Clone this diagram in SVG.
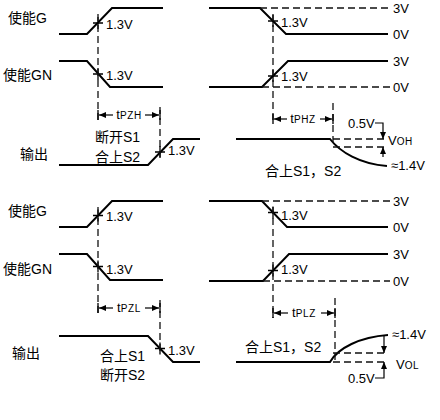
<svg xmlns="http://www.w3.org/2000/svg" width="440" height="420" viewBox="0 0 440 420">
<defs>
<style>
.w{fill:none;stroke:#000;stroke-width:2}
.d{fill:none;stroke:#111;stroke-width:1.3;stroke-dasharray:7 4}
.k{fill:none;stroke:#000;stroke-width:1.3}
.a{fill:none;stroke:#000;stroke-width:1.2;marker-end:url(#ah)}
text{font-family:"Liberation Sans","Noto Sans CJK SC",sans-serif;font-size:13px;fill:#000}
.c{font-size:14px}
.s{font-size:10px;letter-spacing:0.6px}
</style>
<marker id="ah" markerWidth="8" markerHeight="8" refX="7" refY="4" orient="auto" markerUnits="userSpaceOnUse"><path d="M0,1 L7,4 L0,7 z" fill="#000"/></marker>
<path id="x" d="M-5,0H5M0,-6V6" class="k"/>
</defs>
<rect width="440" height="420" fill="#fff"/>

<g id="labels">
<text class="c" x="8" y="23">使能G</text>
<text class="c" x="3" y="80">使能GN</text>
<text class="c" x="20" y="159">输出</text>
<text class="c" x="8" y="216">使能G</text>
<text class="c" x="3" y="274">使能GN</text>
<text class="c" x="12" y="358">输出</text>
</g>

<g id="top-enable">
<path class="w" d="M59,34H87L112,8H163"/>
<path class="w" d="M209,8H260L286,34H388"/>
<path class="w" d="M59,61H87L110,87H163"/>
<path class="w" d="M209,87H262L288,61H388"/>
<path class="d" d="M260,8H390M262,87H390"/>
<use href="#x" x="98" y="23"/>
<use href="#x" x="98" y="74"/>
<use href="#x" x="273" y="21"/>
<use href="#x" x="273" y="76"/>
<text x="106" y="29">1.3V</text>
<text x="106" y="80">1.3V</text>
<text x="281" y="27">1.3V</text>
<text x="281" y="81">1.3V</text>
<text x="393" y="13">3V</text>
<text x="393" y="39">0V</text>
<text x="393" y="66">3V</text>
<text x="393" y="92">0V</text>
</g>

<g id="top-output">
<path class="w" d="M59,165H148L173,139H200"/>
<use href="#x" x="160" y="152"/>
<text x="168" y="155">1.3V</text>
<text class="c" x="95" y="142">断开S1</text>
<text class="c" x="95" y="162">合上S2</text>
<path class="w" d="M236,139H330C340,152 360,164 387,166"/>
<path class="d" d="M333,139H388M333,147H388"/>
<path class="a" d="M375,123H383V139"/>
<path class="a" d="M383,157V147"/>
<text x="348" y="128">0.5V</text>
<text x="388" y="145">V<tspan class="s">OH</tspan></text>
<text x="391" y="170">≈1.4V</text>
<text class="c" x="265" y="176">合上S1，S2</text>
</g>

<g id="bottom-enable">
<path class="w" d="M59,227H87L112,201H163"/>
<path class="w" d="M209,201H262L287,227H388"/>
<path class="w" d="M59,254H87L110,280H163"/>
<path class="w" d="M209,281H263L289,254H388"/>
<path class="d" d="M262,201H390M263,281H390"/>
<use href="#x" x="98" y="215.5"/>
<use href="#x" x="98" y="266.5"/>
<use href="#x" x="273" y="212.5"/>
<use href="#x" x="273" y="270.5"/>
<text x="106" y="221">1.3V</text>
<text x="106" y="274">1.3V</text>
<text x="281" y="220">1.3V</text>
<text x="281" y="274">1.3V</text>
<text x="393" y="206">3V</text>
<text x="393" y="232">0V</text>
<text x="393" y="259">3V</text>
<text x="393" y="286">0V</text>
</g>

<g id="bottom-output">
<path class="w" d="M59,336H148L173,362H200"/>
<use href="#x" x="160" y="348.5"/>
<text x="168" y="355">1.3V</text>
<text class="c" x="100" y="361">合上S1</text>
<text class="c" x="100" y="380">断开S2</text>
<path class="w" d="M236,362H330C338,348 360,337 388,335"/>
<path class="d" d="M333,353H388M333,362H388"/>
<path class="a" d="M384,336V353"/>
<path class="a" d="M375,378H384V362"/>
<text x="392" y="339">≈1.4V</text>
<text x="396" y="369">V<tspan class="s">OL</tspan></text>
<text x="348" y="383">0.5V</text>
<text class="c" x="245" y="352">合上S1，S2</text>
</g>

<g id="connectors">
<path class="d" d="M98,14V120M273,14V124M160,107V157M333,103V146"/>
<path class="d" d="M98,207V313M273,207V318M160,300V352M335,298V364"/>
<path class="k" d="M98,110V120M160,110V120M273,114V124M333,114V124"/>
<path class="k" d="M98,303V313M160,303V313M273,308V318M335,308V318"/>
<path class="a" d="M113,115H99"/>
<path class="a" d="M145,115H159"/>
<text x="129" y="119" text-anchor="middle">t<tspan class="s">PZH</tspan></text>
<path class="a" d="M287,119H274"/>
<path class="a" d="M320,119H332"/>
<text x="303" y="123" text-anchor="middle">t<tspan class="s">PHZ</tspan></text>
<path class="a" d="M113,308H99"/>
<path class="a" d="M145,308H159"/>
<text x="129" y="312" text-anchor="middle">t<tspan class="s">PZL</tspan></text>
<path class="a" d="M288,313H274"/>
<path class="a" d="M321,313H334"/>
<text x="304" y="317" text-anchor="middle">t<tspan class="s">PLZ</tspan></text>
</g>
</svg>
